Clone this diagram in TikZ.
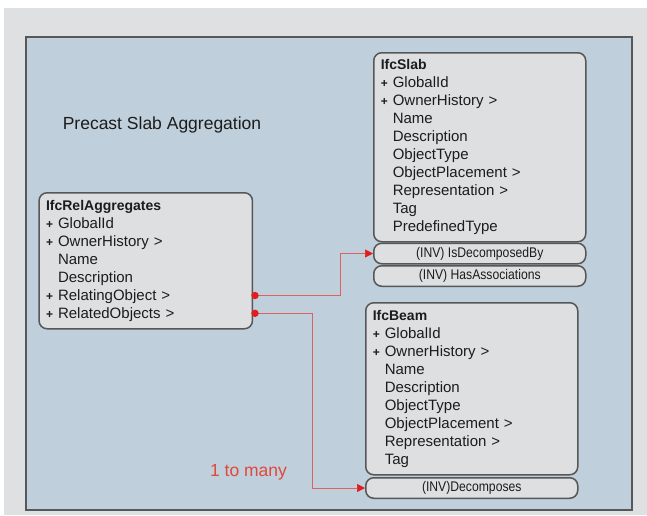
\documentclass[tikz,border=0pt]{standalone}
\usepackage{fontspec}
\setmainfont{Liberation Sans}
\newfontfamily\condfont[FakeStretch=0.87]{Liberation Sans}
\usetikzlibrary{arrows.meta}
\definecolor{outergray}{HTML}{DFE0E1}
\definecolor{panelblue}{HTML}{BFCFDB}
\definecolor{panelline}{HTML}{555759}
\definecolor{boxfill}{HTML}{DEDFE0}
\definecolor{boxline}{HTML}{575757}
\definecolor{linkred}{HTML}{E06060}
\definecolor{tipred}{HTML}{E01E1E}
\definecolor{labelred}{HTML}{E0483A}
\definecolor{titleink}{HTML}{1C1C1C}
\newcommand{\plusmark}{\makebox[12pt][l]{\fontsize{12}{12}\selectfont\bfseries+}}
\newcommand{\nomark}{\hspace*{12pt}}
\newcommand{\hdr}[1]{{\fontsize{14}{18}\selectfont\bfseries #1}}
\begin{document}
\begin{tikzpicture}[x=1pt,y=-1pt,
  classbox/.style={draw=boxline, fill=boxfill, line width=1.5pt, rounded corners=8pt,
    anchor=north west, align=left, inner xsep=7pt, inner ysep=0pt,
    font=\fontsize{15}{18}\selectfont, text=titleink},
  invbox/.style={draw=boxline, fill=boxfill, line width=1.5pt, rounded corners=8pt,
    anchor=north west, inner sep=0pt, minimum width=212pt, minimum height=20.5pt,
    font=\condfont\fontsize{14}{14}\selectfont, text=titleink},
  link/.style={draw=linkred, line width=0.7pt, -{Triangle[length=8pt,width=8pt,color=tipred]}},
  dot/.style={fill=tipred}
]
\useasboundingbox (0,0) rectangle (647,515);
\fill[white] (0,0) rectangle (647,515);
\fill[outergray] (4,8) rectangle (647,515);
\filldraw[fill=panelblue, draw=panelline, line width=2pt] (26,37) rectangle (632,510);

\node (title) at (162,125) {\fontsize{17.5}{20}\selectfont\color{titleink}Precast Slab Aggregation};

\node[classbox, text width=199.4pt, minimum height=136pt] (rel) at (38.3,192) {%
\hdr{IfcRelAggregates}\\
\plusmark GlobalId\\
\plusmark OwnerHistory >\\
\nomark Name\\
\nomark Description\\
\plusmark RelatingObject >\\
\plusmark RelatedObjects >};

\node[classbox, text width=198pt, minimum height=189pt] (slab) at (373,52) {%
\hdr{IfcSlab}\\
\plusmark GlobalId\\
\plusmark OwnerHistory >\\
\nomark Name\\
\nomark Description\\
\nomark ObjectType\\
\nomark ObjectPlacement >\\
\nomark Representation >\\
\nomark Tag\\
\nomark PredefinedType};

\node[invbox] (dec) at (373,242.5) {(INV) IsDecomposedBy};
\node[invbox] (assoc) at (373,265) {(INV) HasAssociations};

\node[classbox, text width=198pt, minimum height=172pt] (beam) at (365,302) {%
\hdr{IfcBeam}\\
\plusmark GlobalId\\
\plusmark OwnerHistory >\\
\nomark Name\\
\nomark Description\\
\nomark ObjectType\\
\nomark ObjectPlacement >\\
\nomark Representation >\\
\nomark Tag};

\node[invbox] (decomp) at (365,477) {(INV)Decomposes};

\coordinate (d1) at (255,295.5);
\coordinate (d2) at (255,313.3);
\coordinate (k1) at (340,295.5);
\coordinate (k2) at (312,313.3);
\draw[link] (d1) -- (k1) |- (dec.west);
\draw[link] (d2) -- (k2) |- (decomp.west);
\fill[dot] (d1) circle[radius=3.7pt];
\fill[dot] (d2) circle[radius=3.7pt];

\node[text=labelred, font=\fontsize{17.5}{20}\selectfont] (card) at (248.5,472) {1 to many};
\end{tikzpicture}
\end{document}
